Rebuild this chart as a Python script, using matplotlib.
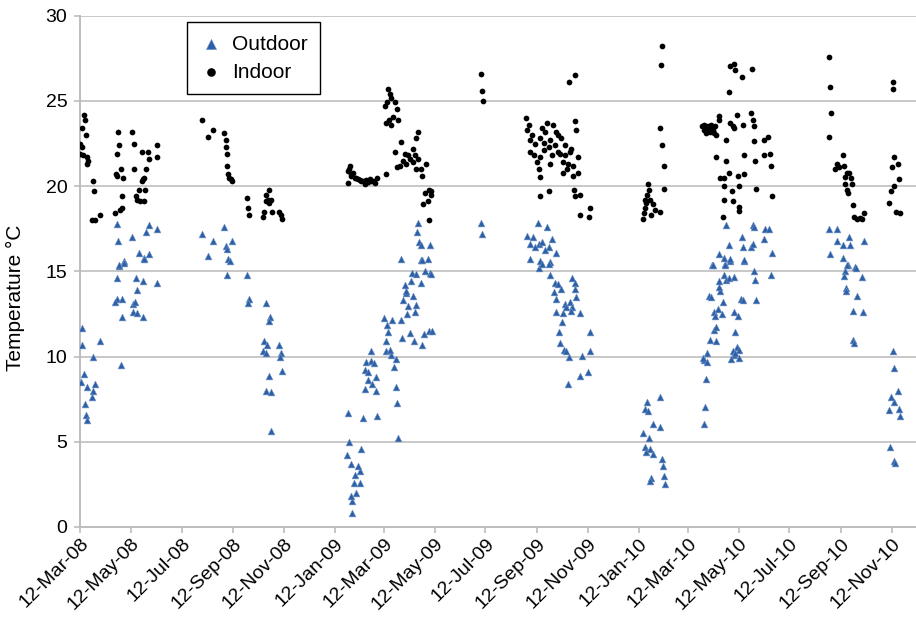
import matplotlib
matplotlib.use("Agg")
import matplotlib.pyplot as plt
import matplotlib.dates as mdates
import pandas as pd

plt.rcParams['font.family'] = ['Liberation Sans', 'DejaVu Sans']

# ---- indoor readings (month-day, deg C) ----
indoor_2008_days = [
    "03-17", "03-18", "03-15", "03-19", "03-12", "03-14", "03-12", "03-16", "03-21", "03-22",
    "03-20", "03-28", "03-29", "03-27", "03-30", "04-05",
    "04-27", "05-14", "04-28", "05-16", "04-26", "05-25", "06-02", "06-13", "06-13", "06-03",
    "04-30", "04-24", "04-25", "05-03", "05-16", "05-30", "05-28", "05-27", "05-25", "05-22",
    "05-29", "05-18", "05-02", "05-20", "05-23", "05-28", "05-01", "04-29", "04-23",
    "08-05", "08-19", "08-13", "09-01", "09-03", "09-03", "09-04", "09-05", "09-06", "09-07",
    "09-09", "09-11",
    "09-29", "09-30", "10-01", "10-25", "10-22", "10-24", "10-28", "10-21", "10-25", "10-19",
    "10-29", "10-18", "11-06", "11-08", "11-10"]
indoor_2008_temp = [
    24.2, 23.9, 23.4, 23.0, 22.5, 22.3, 21.9, 21.8, 21.7, 21.5,
    21.3, 20.3, 19.7, 18.0, 18.0, 18.3,
    23.2, 23.2, 22.4, 22.5, 21.9, 22.0, 22.0, 22.4, 21.7, 21.6,
    21.0, 20.7, 20.6, 20.5, 21.0, 21.0, 20.5, 20.4, 20.3, 19.8,
    19.8, 19.4, 19.4, 19.2, 19.1, 19.1, 18.7, 18.6, 18.4,
    23.9, 23.3, 22.9, 23.1, 22.7, 22.3, 21.9, 21.2, 20.7, 20.5,
    20.4, 20.3,
    19.3, 18.7, 18.3, 19.8, 19.5, 19.2, 19.2, 19.1, 19.0, 18.5,
    18.5, 18.2, 18.5, 18.3, 18.1]

indoor_2009_days = [
    "01-30", "01-28", "02-03", "01-28", "02-07", "02-13", "02-19", "02-25", "03-01", "03-04",
    "02-17", "03-15", "02-01", "02-05", "02-09", "02-11", "02-15", "02-21", "02-23", "02-27",
    "01-29", "01-31",
    "03-17", "03-19", "03-21", "03-16", "03-25", "03-13", "03-28", "03-23", "03-18", "03-29",
    "03-14", "03-20",
    "04-22", "04-20", "04-02", "03-25", "04-16", "04-06", "04-10", "04-18", "04-12", "04-22",
    "04-04", "04-16", "03-31", "04-08", "05-02", "03-28", "04-20", "04-26", "04-27", "05-05",
    "05-08", "04-30", "05-07", "05-04", "04-28", "05-05",
    "07-07", "07-08", "07-09",
    "08-30", "09-02", "08-31", "09-24", "10-01", "09-18", "09-22", "10-05", "10-07", "09-04",
    "09-15", "09-28", "10-11", "09-10", "09-20", "10-15", "10-23", "09-04", "09-08", "09-16",
    "09-30", "10-07", "10-16", "10-31", "10-13", "10-19", "09-28", "10-25", "09-14", "10-13",
    "10-31", "09-15", "10-25", "10-27", "10-29", "10-20", "10-28", "10-26", "11-02", "10-27",
    "09-26", "09-15", "11-03", "11-13", "11-14",
    "09-06", "09-20", "09-26", "10-03", "10-09", "10-18", "10-21", "09-12"]
indoor_2009_temp = [
    21.2, 20.9, 20.75, 20.2, 20.45, 20.3, 20.35, 20.3, 20.2, 20.5,
    20.15, 20.7, 20.6, 20.5, 20.4, 20.35, 20.3, 20.25, 20.4, 20.3,
    21.0, 20.7,
    25.7, 25.4, 25.2, 24.95, 24.95, 24.7, 24.55, 24.05, 23.9, 23.9,
    23.7, 23.6,
    23.2, 22.8, 22.6, 22.0, 22.2, 21.9, 21.8, 21.8, 21.6, 21.6,
    21.5, 21.4, 21.2, 21.3, 21.3, 21.1, 21.0, 21.0, 20.6, 19.8,
    19.7, 19.6, 19.5, 19.1, 18.95, 18.0,
    26.6, 25.6, 25.0,
    24.0, 23.6, 23.3, 23.7, 23.6, 23.4, 23.2, 23.2, 23.0, 22.7,
    22.8, 22.7, 22.8, 22.5, 22.55, 22.4, 22.2, 22.0, 21.8, 21.7,
    21.8, 22.0, 21.8, 21.7, 21.4, 21.3, 21.3, 21.2, 21.0, 20.8,
    20.8, 20.55, 20.6, 23.8, 23.3, 26.1, 26.5, 19.8, 19.5, 19.4,
    19.7, 19.4, 18.3, 18.2, 18.7,
    23.0, 22.1, 22.3, 22.4, 21.9, 21.0, 22.0, 21.4]

indoor_2010_days = [
    "02-09", "02-08", "02-07", "02-09", "02-11", "02-11", "01-23", "01-24", "01-22", "01-19",
    "01-25", "01-21", "01-29", "01-19", "01-31", "02-06", "01-18", "01-27", "01-17",
    "03-29", "04-02", "04-04", "04-08", "04-12", "04-10", "04-14", "04-03", "04-15", "04-18",
    "04-19", "03-31", "04-01", "04-05", "04-06", "04-09", "04-11",
    "05-02", "05-06", "05-08", "05-16", "05-28", "04-30", "05-10", "05-02", "05-05", "05-06",
    "05-17", "05-27", "05-29", "05-30", "04-27", "05-31", "06-11", "06-16", "04-15", "04-27",
    "05-18", "06-01", "06-12", "06-19", "06-20", "04-30", "04-25", "04-20", "05-11", "05-19",
    "04-25", "05-12", "06-02", "05-04", "04-24", "05-05", "05-13", "05-12", "06-21", "04-23",
    "08-29", "08-30", "08-31", "08-28", "09-14", "09-07", "09-10", "09-05", "09-15", "09-19",
    "09-22", "09-17", "09-24", "09-17", "09-25", "09-19", "09-20", "09-26", "09-27", "10-01",
    "10-05", "10-09", "10-07",
    "11-13", "11-13", "11-14", "11-19", "11-12", "11-21", "11-14", "11-11", "11-09", "11-17",
    "11-22"]
indoor_2010_temp = [
    28.2, 27.1, 23.4, 22.4, 21.2, 19.85, 20.1, 19.8, 19.5, 19.2,
    19.2, 19.0, 18.95, 18.7, 18.6, 18.5, 18.4, 18.3, 18.05,
    23.5, 23.5, 23.3, 23.2, 23.1, 23.4, 23.5, 23.1, 23.0, 24.1,
    23.9, 23.3, 23.6, 23.5, 23.3, 23.6, 23.3,
    27.05, 27.15, 26.8, 26.4, 26.9, 25.5, 24.2, 23.7, 23.5, 23.4,
    23.6, 24.3, 23.9, 23.5, 22.7, 22.65, 22.7, 22.9, 21.7, 21.5,
    21.8, 21.5, 21.8, 21.9, 21.2, 20.8, 20.5, 20.45, 20.6, 20.7,
    20.0, 20.0, 19.85, 19.7, 19.2, 19.1, 18.75, 18.55, 19.4, 18.2,
    27.6, 25.8, 24.3, 22.9, 21.8, 21.3, 21.1, 21.0, 21.2, 20.75,
    20.8, 20.55, 20.45, 20.15, 20.1, 19.8, 19.6, 18.9, 18.2, 18.1,
    18.15, 18.4, 18.05,
    26.1, 25.7, 21.7, 21.3, 21.1, 20.4, 20.0, 19.7, 19.0, 18.5,
    18.4]

# ---- outdoor readings ----
outdoor_2008_days = [
    "03-15", "03-14", "03-17", "03-13", "03-21", "03-30", "03-28", "03-27", "03-18", "03-19",
    "03-20", "03-28", "04-05",
    "04-26", "06-03", "06-12", "05-14", "05-30", "04-27", "05-22", "06-03", "05-28", "05-04",
    "04-28", "04-26", "04-25", "04-23", "05-02", "05-01", "04-30", "04-28", "05-04", "05-18",
    "05-20", "05-27", "05-15", "05-17", "05-15", "05-19", "05-27", "06-13", "05-28",
    "08-05", "09-01", "08-19", "09-10", "09-03", "09-04", "08-13", "09-06", "09-08", "09-05",
    "09-29", "10-01", "09-30", "10-21", "10-26", "10-25", "10-19", "10-23", "10-18", "10-21",
    "11-06", "11-08", "11-07", "11-10", "10-25", "10-22", "10-27", "10-28"]
outdoor_2008_temp = [
    11.7, 10.7, 9.0, 8.5, 8.2, 8.4, 8.0, 7.6, 7.2, 6.6,
    6.3, 9.95, 10.9,
    17.8, 17.7, 17.5, 17.0, 17.3, 16.8, 16.1, 16.0, 15.8, 15.6,
    15.3, 14.6, 13.35, 13.2, 13.4, 12.3, 9.5, 15.4, 15.5, 14.6,
    13.9, 14.45, 13.1, 13.2, 12.6, 12.55, 12.3, 14.3, 15.7,
    17.2, 17.6, 16.8, 16.8, 16.5, 16.3, 15.9, 15.7, 15.6, 14.8,
    14.8, 13.4, 13.15, 13.15, 12.3, 12.1, 10.9, 10.7, 10.3, 10.2,
    10.7, 10.2, 10.0, 9.15, 8.85, 8.0, 7.9, 5.65]

outdoor_2009_days = [
    "02-02", "02-02", "02-01", "02-07", "02-04", "02-11", "02-05", "02-11", "02-09", "01-31",
    "02-13", "01-27", "01-29", "01-28", "02-15", "03-04", "03-29", "03-28", "03-27", "02-17",
    "03-02", "02-26", "03-03", "02-21", "02-17", "02-21", "02-19", "02-24", "02-28", "02-25",
    "03-24", "03-26", "03-21", "03-14", "03-19", "03-15", "03-17", "03-16", "03-12", "03-22",
    "04-02", "04-03", "04-12", "04-17", "04-27", "04-29", "05-05", "05-09", "04-09", "04-18",
    "04-19", "04-10", "04-04", "04-16", "04-07", "04-08", "04-06", "04-14", "04-25", "04-15",
    "04-20", "04-30", "05-06", "05-08", "04-26", "04-22", "04-21", "04-23", "04-25", "05-06",
    "04-02", "04-27", "05-04",
    "07-07", "07-08",
    "09-13", "09-24", "08-31", "09-07", "09-30", "09-03", "09-14", "09-18", "09-10", "09-26",
    "10-05", "09-22", "09-04", "09-16", "09-28", "09-14", "09-18", "09-26", "09-27", "10-04",
    "10-07", "10-11", "10-02", "10-05", "10-24", "10-28", "10-27", "10-29", "10-15", "10-21",
    "10-24", "10-17", "10-13", "10-23", "11-02", "10-05", "10-12", "11-14", "10-08", "10-09",
    "10-14", "10-17", "10-20", "11-05", "11-14", "11-12", "11-03", "10-19"]
outdoor_2009_temp = [
    0.8, 1.5, 1.8, 2.0, 2.6, 2.6, 3.05, 3.3, 3.6, 3.7,
    4.6, 4.2, 5.0, 6.7, 6.4, 6.5, 5.2, 7.25, 8.2, 8.1,
    8.0, 8.4, 8.8, 8.65, 9.2, 9.1, 9.7, 9.75, 9.65, 10.3,
    9.4, 9.85, 10.1, 10.35, 10.4, 10.9, 11.45, 11.85, 12.25, 12.15,
    12.15, 11.1, 11.4, 10.9, 10.7, 11.35, 11.5, 11.5, 12.5, 12.6,
    13.0, 12.95, 13.3, 13.55, 13.75, 13.85, 14.2, 14.45, 14.3, 14.9,
    14.85, 15.0, 14.9, 14.85, 15.65, 17.85, 17.3, 16.7, 16.55, 16.55,
    15.75, 15.65, 15.7,
    17.85, 17.2,
    17.85, 17.6, 17.1, 17.0, 16.9, 16.6, 16.6, 16.7, 16.45, 16.4,
    16.05, 16.25, 15.75, 15.6, 15.55, 15.2, 15.45, 15.45, 14.8, 14.3,
    14.25, 13.95, 13.8, 13.4, 14.6, 14.3, 13.95, 13.5, 13.1, 13.2,
    12.9, 12.9, 12.55, 12.7, 12.55, 12.6, 12.0, 11.45, 11.45, 10.8,
    10.4, 10.35, 9.95, 10.05, 10.35, 9.1, 8.85, 8.4]

outdoor_2010_days = [
    "01-22", "01-19", "01-23", "02-06", "01-29", "02-07", "01-17", "01-24", "01-20", "01-25",
    "01-21", "01-29", "02-09", "02-10", "01-27", "01-26", "02-11", "02-12",
    "04-01", "04-02", "04-03", "03-31", "03-30", "04-04", "04-04", "04-08", "04-15", "04-13",
    "04-15", "04-12", "04-14", "04-17", "04-22", "04-23", "04-07", "04-09", "04-20", "04-19",
    "04-18", "04-24", "04-27", "04-30", "05-07", "04-10", "04-26", "05-02", "05-18", "05-30",
    "06-01", "06-20", "05-15", "05-17", "06-02", "05-06", "05-11", "05-08", "05-10", "05-12",
    "05-05", "05-06", "05-03", "05-13", "05-08",
    "04-27", "05-29", "05-31", "06-13", "06-18", "05-16", "06-11", "04-30", "05-17", "05-27",
    "05-29", "06-21", "04-18", "04-24", "05-02", "05-18", "04-11", "04-26",
    "08-28", "09-07", "09-07", "09-14", "09-22", "09-23", "10-09", "08-30", "09-14", "09-20",
    "09-29", "09-19", "09-30", "09-17", "09-16", "10-07", "09-18", "09-18", "10-01", "09-26",
    "10-08", "09-26", "09-27",
    "11-13", "11-14", "11-19", "11-11", "11-15", "11-09", "11-21", "11-22", "11-10", "11-15",
    "11-16"]
outdoor_2010_temp = [
    7.35, 6.9, 6.8, 7.65, 6.05, 5.85, 5.5, 5.2, 4.7, 4.6,
    4.4, 4.3, 4.0, 3.6, 2.85, 2.7, 3.0, 2.5,
    6.05, 7.05, 8.7, 9.8, 9.9, 9.7, 10.2, 11.0, 10.9, 11.55,
    11.75, 12.6, 12.4, 12.8, 12.5, 13.2, 13.55, 13.5, 13.85, 14.1,
    14.45, 14.8, 14.5, 14.6, 14.65, 15.4, 15.45, 15.6, 15.6, 15.0,
    14.5, 14.8, 13.4, 13.3, 13.3, 12.6, 12.4, 11.45, 10.55, 10.4,
    10.35, 10.1, 9.85, 9.9, 10.2,
    17.7, 17.7, 17.6, 17.5, 17.5, 17.0, 16.9, 16.55, 16.4, 16.45,
    16.6, 16.05, 16.0, 15.8, 15.7, 15.65, 15.35, 15.4,
    17.5, 17.5, 16.8, 16.55, 17.0, 16.55, 16.8, 16.0, 15.8, 15.35,
    15.25, 15.35, 15.2, 15.0, 14.7, 14.65, 14.05, 13.85, 13.55, 12.7,
    12.6, 11.0, 10.8,
    10.35, 9.35, 7.95, 7.65, 7.35, 6.85, 6.9, 6.5, 4.7, 3.85,
    3.75]


def to_dates(year, days):
    return pd.to_datetime([f"{year}-{d}" for d in days])


indoor_dates = (to_dates(2008, indoor_2008_days).append(to_dates(2009, indoor_2009_days))
                .append(to_dates(2010, indoor_2010_days)))
indoor_temp = indoor_2008_temp + indoor_2009_temp + indoor_2010_temp
outdoor_dates = (to_dates(2008, outdoor_2008_days).append(to_dates(2009, outdoor_2009_days))
                 .append(to_dates(2010, outdoor_2010_days)))
outdoor_temp = outdoor_2008_temp + outdoor_2009_temp + outdoor_2010_temp

fig = plt.figure(figsize=(9.16, 6.21), dpi=100)
ax = fig.add_axes([0.0873, 0.1514, 0.9127, 0.8233])

ax.scatter(outdoor_dates, outdoor_temp, marker='^', s=24, color='#2d5fa6',
           edgecolors='#7396c8', linewidths=0.4, label='Outdoor', zorder=3)
ax.scatter(indoor_dates, indoor_temp, marker='o', s=17, color='black',
           linewidths=0, label='Indoor', zorder=3)

ax.set_ylim(0, 30)
ax.set_yticks(range(0, 31, 5))
ax.set_xlim(pd.Timestamp('2008-03-12'), pd.Timestamp('2010-12-11'))
ax.xaxis.set_major_locator(mdates.MonthLocator(bymonth=[1, 3, 5, 7, 9, 11], bymonthday=12))
ax.xaxis.set_major_formatter(mdates.DateFormatter('%d-%b-%y'))

ax.grid(axis='y', color='#c8c8c8', linewidth=1.4)
ax.set_axisbelow(True)
for s in ['top', 'right']:
    ax.spines[s].set_visible(False)
for s in ['left', 'bottom']:
    ax.spines[s].set_color('#bdbdbd')
    ax.spines[s].set_linewidth(1.4)
ax.tick_params(axis='y', length=4, color='#bdbdbd', width=1.2, labelsize=14, pad=5)
ax.tick_params(axis='x', length=4, color='#bdbdbd', width=1.2, labelsize=14, pad=2)
for lbl in ax.get_xticklabels():
    lbl.set_rotation(45)
    lbl.set_ha('right')
    lbl.set_rotation_mode('anchor')

ax.set_ylabel('Temperature \u00b0C', fontsize=15)
ax.yaxis.set_label_coords(-0.066, 0.448)

leg = ax.legend(loc='upper left', bbox_to_anchor=(0.204, 0.964), bbox_transform=fig.transFigure,
                borderaxespad=0, fontsize=15, frameon=True, fancybox=False,
                edgecolor='black', framealpha=1, markerscale=1.5, handlelength=1.1,
                handletextpad=0.45, labelspacing=0.43, borderpad=0.6)
leg.get_frame().set_linewidth(1.0)

fig.savefig('out.png', dpi=100)
